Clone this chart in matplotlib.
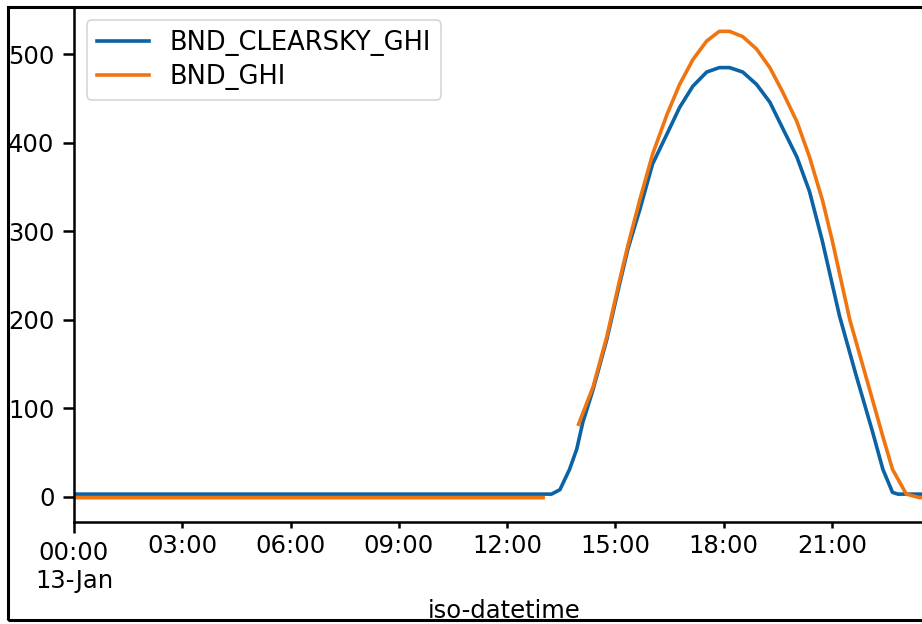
import matplotlib
matplotlib.use("Agg")
import matplotlib.pyplot as plt
import matplotlib.dates as mdates
from matplotlib.ticker import FixedLocator, FixedFormatter
from matplotlib.patches import Rectangle
import numpy as np
import pandas as pd

DAY = "2020-01-13 "

clearsky_times = ["00:00", "13:14", "13:28", "13:44", "13:56", "14:06", "14:23", "14:46",
                  "15:07", "15:21", "15:41", "16:02", "16:26", "16:47", "17:09", "17:32",
                  "17:53", "18:10", "18:32", "18:55", "19:17", "19:38", "20:02", "20:23",
                  "20:44", "21:13", "21:41", "22:08", "22:25", "22:41", "22:50", "23:50"]
clearsky_ghi = [3, 3, 8, 31, 54, 84, 121, 178,
                240, 280, 325, 376, 410, 440, 464, 480,
                485, 485, 480, 466, 446, 417, 384, 345,
                290, 204, 136, 73, 31, 5, 3, 3]

ghi_times = ["00:00", "13:00", "13:30", "13:59", "14:23", "14:46", "15:07", "15:21",
             "15:41", "16:02", "16:26", "16:47", "17:09", "17:32", "17:53", "18:10",
             "18:32", "18:55", "19:17", "19:38", "20:02", "20:23", "20:45", "21:01",
             "21:30", "21:58", "22:25", "22:41", "23:04", "23:26", "23:50"]
ghi = [-1, -1, np.nan, 82, 124, 181, 244, 284,
       336, 387, 432, 466, 494, 515, 526, 526,
       520, 506, 485, 458, 424, 384, 334, 289,
       200, 133, 68, 31, 3, -1, -1]

major_tick_labels = ["00:00\n13-Jan"]
minor_tick_times = ["03:00", "06:00", "09:00", "12:00", "15:00", "18:00", "21:00"]

series_names = ["BND_CLEARSKY_GHI", "BND_GHI"]
colors = ["#0b62a4", "#f0750f"]

FS = 17.5
LFS = 18.5
W, H = 922, 624
fig = plt.figure(figsize=(W / 100, H / 100), dpi=100)
fig.patch.set_facecolor("white")

ax_left, ax_right, ax_top, ax_bot = 74, 934, 7, 522
ax = fig.add_axes([ax_left / W, (H - ax_bot) / H, (ax_right - ax_left) / W, (ax_bot - ax_top) / H])

t1 = pd.to_datetime([DAY + t for t in clearsky_times])
t2 = pd.to_datetime([DAY + t for t in ghi_times])
ax.plot(t1, clearsky_ghi, color=colors[0], lw=2.6, label=series_names[0])
ax.plot(t2, ghi, color=colors[1], lw=2.6, label=series_names[1])

x0 = pd.Timestamp(DAY + "00:00")
x1 = pd.Timestamp(DAY + clearsky_times[-1])
ax.set_xlim(x0, x1)
ax.set_ylim(-28.5, 553.5)

ax.xaxis.set_major_locator(FixedLocator([mdates.date2num(x0)]))
ax.xaxis.set_major_formatter(FixedFormatter(major_tick_labels))
minor_pos = [mdates.date2num(pd.Timestamp(DAY + t)) for t in minor_tick_times]
ax.xaxis.set_minor_locator(FixedLocator(minor_pos))
ax.xaxis.set_minor_formatter(FixedFormatter(minor_tick_times))

ax.set_yticks([0, 100, 200, 300, 400, 500])
ax.tick_params(axis="both", which="major", labelsize=FS, length=8, width=1.8, pad=6)
ax.tick_params(axis="x", which="minor", labelsize=FS, length=4.5, width=1.8, pad=4)
for s in ax.spines.values():
    s.set_linewidth(1.8)

ax.set_xlabel("iso-datetime", fontsize=FS, labelpad=4)

leg = ax.legend(loc="upper left", fontsize=LFS, frameon=True, borderaxespad=0.5,
                handlelength=2.0, labelspacing=0.3)
leg.get_frame().set_linewidth(1.2)

# screenshot frame
fig.add_artist(Rectangle((0, 0), 7 / W, 1, transform=fig.transFigure,
                         facecolor="white", edgecolor="none", zorder=10))
fig.add_artist(Rectangle((0, 0), 1, 3 / H, transform=fig.transFigure,
                         facecolor="white", edgecolor="none", zorder=10))
fig.add_artist(Rectangle((8 / W, (H - 620) / H), (940 - 8) / W, (620 - 7) / H,
                         transform=fig.transFigure, facecolor="none",
                         edgecolor="black", lw=2.2, zorder=11))

fig.savefig("out.png", dpi=100)
